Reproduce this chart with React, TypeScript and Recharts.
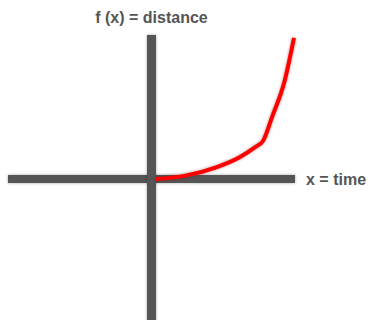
import { ComposedChart, Line, XAxis, YAxis, ReferenceLine, Label } from 'recharts';

// distance over time (axis units, origin at 0,0)
const timeValues = [0.3, 2.2, 4.56, 6.17, 7.2, 7.77, 8.4, 9.3, 9.93];
const distanceValues = [0, 0.2, 0.83, 1.53, 2.2, 2.64, 4.3, 6.9, 9.8];

const xDomain = [-10, 10];
const yDomain = [-10, 10];

const data = timeValues.map((t, i) => ({ time: t, distance: distanceValues[i] }));

const labelStyle = {
    fill: '#555555',
    fontSize: 16,
    fontWeight: 700,
    fontFamily: '"Liberation Sans", Arial, sans-serif',
};

export default function App() {
    return (
        <div style={{ position: 'fixed', left: 0, top: 0, background: '#fff' }}>
            <style>{`
                .axis-line line { filter: drop-shadow(0 0 1.5px rgba(0,0,0,0.35)); }
                .curve path { filter: drop-shadow(0 0 1.5px rgba(120,0,0,0.45)); }
            `}</style>
            <ComposedChart
                width={370}
                height={330}
                data={data}
                margin={{ top: 35, right: 75, bottom: 7, left: 8 }}
            >
                <XAxis type="number" dataKey="time" domain={xDomain} hide />
                <YAxis type="number" domain={yDomain} hide />
                <ReferenceLine className="axis-line" y={0} stroke="#555555" strokeWidth={8}>
                    <Label value="x = time" position="right" offset={11} style={labelStyle} />
                </ReferenceLine>
                <ReferenceLine className="axis-line" x={0} stroke="#555555" strokeWidth={9}>
                    <Label value="f (x) = distance" position="top" offset={12} style={labelStyle} />
                </ReferenceLine>
                <Line
                    className="curve"
                    type="monotone"
                    dataKey="distance"
                    stroke="#ff0000"
                    strokeWidth={4}
                    dot={false}
                    isAnimationActive={false}
                />
            </ComposedChart>
        </div>
    );
}
